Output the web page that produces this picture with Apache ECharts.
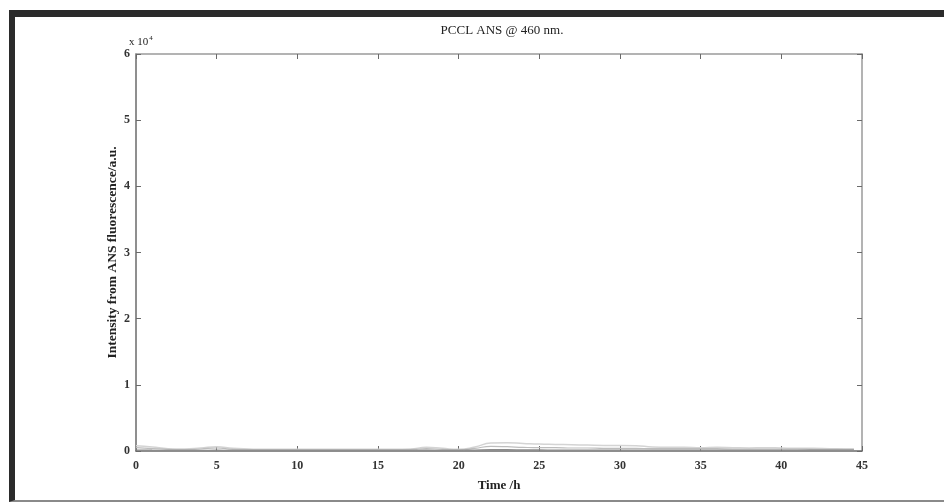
<!DOCTYPE html>
<html>
<head>
<meta charset="utf-8">
<script src="https://cdn.jsdelivr.net/npm/echarts@6/dist/echarts.min.js"></script>
<style>
  html, body { margin: 0; padding: 0; background: #fff; }
  #wrap { position: relative; width: 944px; height: 504px; }
  #main { position: absolute; left: 0; top: 0; width: 944px; height: 504px; }
  #frame {
    position: absolute; left: 9px; top: 10px; right: 0; bottom: 2px;
    border-left: 6px solid #2b2b2b; border-top: 7px solid #2b2b2b;
    border-bottom: 2px solid #8a8a8a; pointer-events: none;
  }
</style>
</head>
<body>
<div id="wrap">
  <div id="main"></div>
  <div id="frame"></div>
</div>
<script>
  // time in hours
  const times = [0, 1, 2, 3, 4, 5, 6, 7, 8, 9, 10, 11, 12, 13, 14, 15, 16, 17, 18, 19, 20, 21, 22,
    23, 24, 25, 26, 27, 28, 29, 30, 31, 32, 33, 34, 35, 36, 37, 38, 39, 40, 41, 42, 43, 44, 44.5];
  // intensity (a.u.)
  const upper = [800, 600, 350, 300, 450, 650, 400, 300, 250, 250, 250, 250, 250, 250, 250, 250,
    250, 300, 550, 400, 250, 600, 1200, 1250, 1150, 1050, 1000, 950, 900, 850, 850, 800, 600, 550,
    550, 500, 550, 500, 450, 500, 450, 400, 400, 350, 300, 300];
  const middle = [500, 350, 250, 200, 300, 450, 250, 200, 200, 200, 200, 200, 200, 200, 200, 200,
    200, 200, 350, 250, 200, 400, 700, 650, 550, 500, 500, 450, 450, 400, 400, 400, 350, 350,
    350, 350, 350, 300, 300, 300, 300, 300, 250, 250, 250, 250];
  const lower = [150, 120, 100, 100, 100, 120, 100, 100, 100, 100, 100, 100, 100, 100, 100, 100,
    100, 100, 120, 100, 100, 150, 200, 200, 180, 160, 150, 150, 150, 150, 150, 150, 150, 150,
    150, 150, 150, 150, 150, 150, 150, 150, 150, 150, 150, 150];
  const yTicks = [0, 1, 2, 3, 4, 5, 6];

  const pairs = (ys) => times.map((t, i) => [t, ys[i]]);
  const font = "Liberation Serif";
  const axisCol = "#6a6a6a";

  let myChart = echarts.init(document.getElementById("main"));

  let option = {
    backgroundColor: "#fff",
    animation: false,
    title: {
      text: "PCCL ANS @ 460 nm.",
      left: 497, top: 19, textAlign: "center",
      textStyle: { fontFamily: font, fontSize: 13, fontWeight: "normal", color: "#222" },
    },
    graphic: [
      {
        type: "text", left: 129, top: 35,
        style: {
          text: "x 10{s|4}", fontFamily: font, fontSize: 11, fill: "#222",
          rich: { s: { fontSize: 7, verticalAlign: "top", padding: [0, 0, 8, 1], fontFamily: font, fill: "#222" } },
        },
      },
    ],
    grid: { left: 136, right: 82, top: 54, bottom: 53 },
    xAxis: [
      {
        type: "value", min: 0, max: 45, interval: 5,
        name: "Time /h", nameLocation: "middle", nameGap: 28,
        nameTextStyle: { fontFamily: font, fontSize: 13, fontWeight: "bold", color: "#222" },
        axisLine: { show: true, onZero: false, lineStyle: { color: axisCol, width: 1.5 } },
        axisTick: { show: true, inside: true, length: 5, lineStyle: { color: axisCol } },
        axisLabel: { fontFamily: font, fontSize: 12, fontWeight: "bold", color: "#333", margin: 9 },
        splitLine: { show: false },
      },
      {
        type: "value", position: "top", min: 0, max: 45, interval: 5,
        axisLine: { show: true, onZero: false, lineStyle: { color: "#9a9a9a", width: 1.5 } },
        axisTick: { show: true, inside: true, length: 5, lineStyle: { color: axisCol } },
        axisLabel: { show: false },
        splitLine: { show: false },
      },
    ],
    yAxis: [
      {
        type: "value", min: 0, max: 60000, interval: 10000,
        name: "Intensity from ANS fluorescence/a.u.", nameLocation: "middle", nameGap: 16,
        nameMoveOverlap: false,
        nameTextStyle: { fontFamily: font, fontSize: 13.5, fontWeight: "bold", color: "#222" },
        axisLine: { show: true, onZero: false, lineStyle: { color: axisCol, width: 1.5 } },
        axisTick: { show: true, inside: true, length: 5, lineStyle: { color: axisCol } },
        axisLabel: {
          fontFamily: font, fontSize: 12, fontWeight: "bold", color: "#333", margin: 6,
          formatter: (v) => String(yTicks[Math.round(v / 10000)]),
        },
        splitLine: { show: false },
      },
      {
        type: "value", position: "right", min: 0, max: 60000, interval: 10000,
        axisLine: { show: true, onZero: false, lineStyle: { color: "#9a9a9a", width: 1.5 } },
        axisTick: { show: true, inside: true, length: 5, lineStyle: { color: axisCol } },
        axisLabel: { show: false },
        splitLine: { show: false },
      },
    ],
    series: [
      {
        type: "line", data: pairs(upper), showSymbol: false, smooth: true,
        lineStyle: { color: "#d4d4d4", width: 1.5 },
      },
      {
        type: "line", data: pairs(middle), showSymbol: false, smooth: true,
        lineStyle: { color: "#bdbdbd", width: 1.2 },
      },
      {
        type: "line", data: pairs(lower), showSymbol: false, smooth: true,
        lineStyle: { color: "#8c8c8c", width: 1.2 },
      },
    ],
  };

  myChart.setOption(option);
</script>
</body>
</html>
